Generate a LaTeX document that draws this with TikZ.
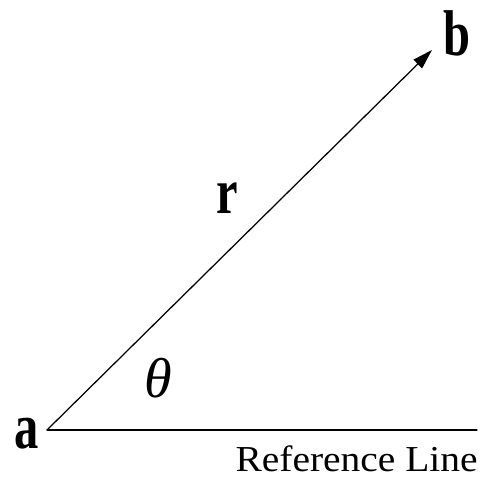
\documentclass[tikz,border=0pt]{standalone}
\usepackage{fontspec}
\setmainfont{Liberation Serif}
\usetikzlibrary{arrows.meta,calc}
\usepackage{tkz-euclide}

\tikzset{
  ptlabel/.style={font=\fontsize{46}{48}\selectfont\bfseries,xscale=.75,inner sep=0pt},
  anglabel/.style={font=\fontsize{40}{42}\selectfont\itshape,inner sep=0pt},
  linelabel/.style={font=\fontsize{26}{28}\selectfont,xscale=1.08,inner sep=0pt}
}

\begin{document}
\begin{tikzpicture}
\useasboundingbox (-1.175,-1.325) rectangle (10.95,10.75);
\tkzSetUpLine[line width=.9pt,color=black]

\tkzDefPoints{0/0/A,9.625/9.5/B,10.75/0/E}

\tkzDrawSegment(A,E)
\tkzDrawSegment[-{Triangle[length=.5cm,width=.3cm]}](A,B)

\node[ptlabel] (la) at (-0.5,-0.09) {a};
\node[ptlabel] (lb) at (10.26,9.91) {b};
\node[ptlabel] (lr) at (4.5,5.8) {r};
\node[anglabel] (ltheta) at (2.775,1.3) {θ};
\node[linelabel,anchor=base] (lref) at (7.74,-1.05) {Reference Line};

\end{tikzpicture}
\end{document}
